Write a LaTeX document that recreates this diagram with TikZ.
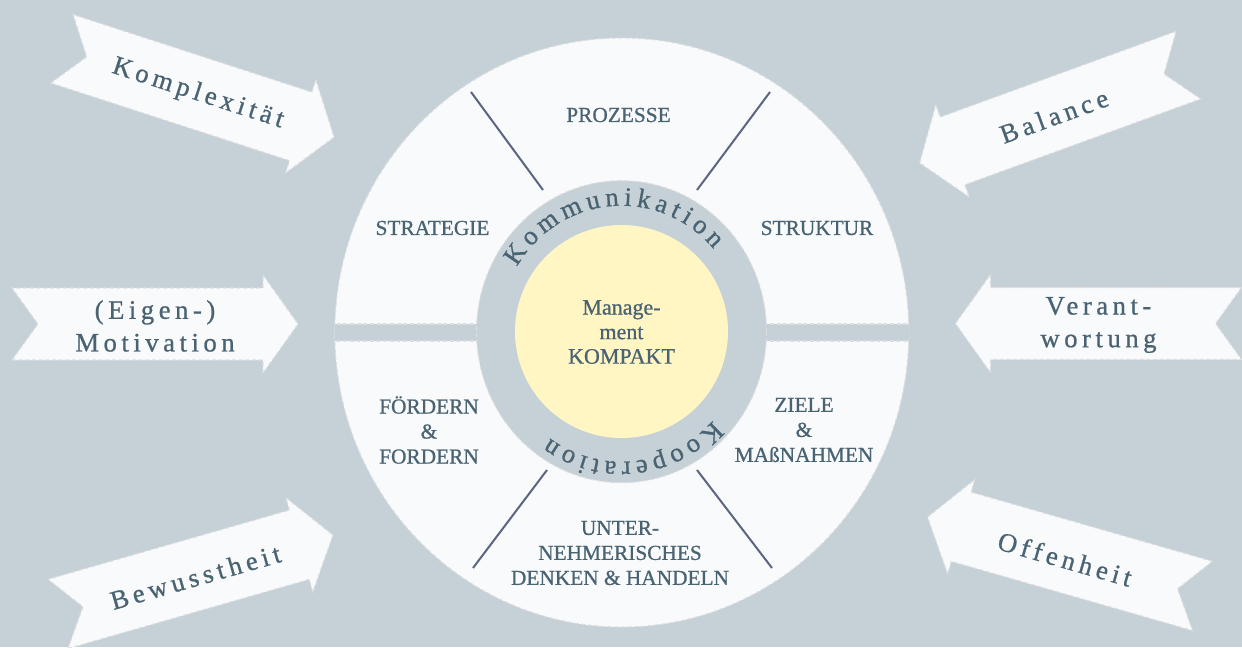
\documentclass[tikz,border=0pt]{standalone}
\usepackage{fontspec}
\setmainfont{Liberation Serif}
\usetikzlibrary{decorations.text}

\definecolor{backdrop}{HTML}{C6D1D7}
\definecolor{paper}{HTML}{F8FAFC}
\definecolor{rim}{HTML}{DCDEE0}
\definecolor{core}{HTML}{FFF6C4}
\definecolor{ink}{HTML}{4A6372}
\definecolor{spoke}{HTML}{5C6480}

\newcommand\ringfont{\fontsize{20}{24}\selectfont\addfontfeatures{FakeBold=0.8}\color{ink}}

\tikzset{
  banner/.pic={
    \draw[rim, fill=paper, densely dashed, line width=0.8pt]
      (-143,36) -- (108,36) -- (108,49) -- (143,0) -- (108,-49)
      -- (108,-36) -- (-143,-36) -- (-117,0) -- cycle;
  },
  bannertext/.style={text=ink, align=center,
    font=\fontsize{20}{24.5}\selectfont\addfontfeatures{LetterSpace=17,FakeBold=0.8}},
  sector/.style={text=ink, align=center,
    font=\fontsize{16}{18.75}\selectfont\addfontfeatures{FakeBold=0.8}},
  rimline/.style={rim, densely dashed, line width=0.8pt},
}

\begin{document}
\begin{tikzpicture}[x=0.75pt, y=-0.75pt]
    % Background
    \fill[backdrop] (0,0) rectangle (1242,647);
    \useasboundingbox (0,0) rectangle (1242,647);

    % Arrows pointing in
    \pic[rotate=-18] at (198,93) {banner};
    \node[bannertext, rotate=-18] (komplex) at (198,94) {Komplexität};
    \pic at (155,324) {banner};
    \node[bannertext] (motivation) at (155,326) {(Eigen-)\\Motivation};
    \pic[rotate=16] at (195.5,574.5) {banner};
    \node[bannertext, rotate=16] (bewusst) at (195.5,577) {Bewusstheit};
    \pic[rotate=200] at (1054,114) {banner};
    \node[bannertext, rotate=20] (balance) at (1054,116) {Balance};
    \pic[rotate=180] at (1098.5,323.5) {banner};
    \node[bannertext] (verantwortung) at (1098.5,325) {Verant-\\wortung};
    \pic[rotate=164] at (1065,556.5) {banner};
    \node[bannertext, rotate=-16] (offenheit) at (1065,559) {Offenheit};

    % Outer disc, split by a band
    \draw[rimline, fill=paper] (621.8,332.5) ellipse[x radius=287, y radius=294.5];
    \begin{scope}
        \clip (621.8,332.5) ellipse[x radius=287, y radius=294.5];
        \draw[rimline, fill=backdrop] (320,324) rectangle (920,341);
    \end{scope}

    % Ring and core
    \draw[rimline, fill=backdrop] (621.5,331.7) ellipse[x radius=145, y radius=151];
    \fill[core] (621.5,331.5) circle[radius=106.5];

    % Spokes
    \draw[spoke, line width=1.5pt] (471,92) -- (543,190);
    \draw[spoke, line width=1.5pt] (770,92) -- (697,190);
    \draw[spoke, line width=1.5pt] (547,470) -- (473,568);
    \draw[spoke, line width=1.5pt] (697,470) -- (772,568);

    % Ring text
    \path[decorate, decoration={text along path, text align=fit to path,
        text={|\ringfont|Kommunikation}}]
        (621.5,331.7) ++(-149:122 and 126) arc[start angle=-149, end angle=-41, x radius=122, y radius=126];
    \path[decorate, decoration={text along path, text align=fit to path,
        text={|\ringfont|Kooperation}}]
        (621.5,331.7) ++(43:125 and 130) arc[start angle=43, end angle=125, x radius=125, y radius=130];

    % Sectors
    \node[sector] (prozesse) at (618.5,115) {PROZESSE};
    \node[sector] (strategie) at (432.5,228) {STRATEGIE};
    \node[sector] (struktur) at (817,228) {STRUKTUR};
    \node[sector] (foerdern) at (429,430) {FÖRDERN\\\&\\FORDERN};
    \node[sector] (ziele) at (804,430) {ZIELE\\\&\\MAßNAHMEN};
    \node[sector] (unternehmer) at (620,553) {UNTER-\\NEHMERISCHES\\DENKEN \& HANDELN};
    \node[sector, font=\fontsize{16.5}{18.4}\selectfont\addfontfeatures{FakeBold=0.8}] (kompakt) at (621.5,332) {Manage-\\ment\\KOMPAKT};
\end{tikzpicture}
\end{document}
